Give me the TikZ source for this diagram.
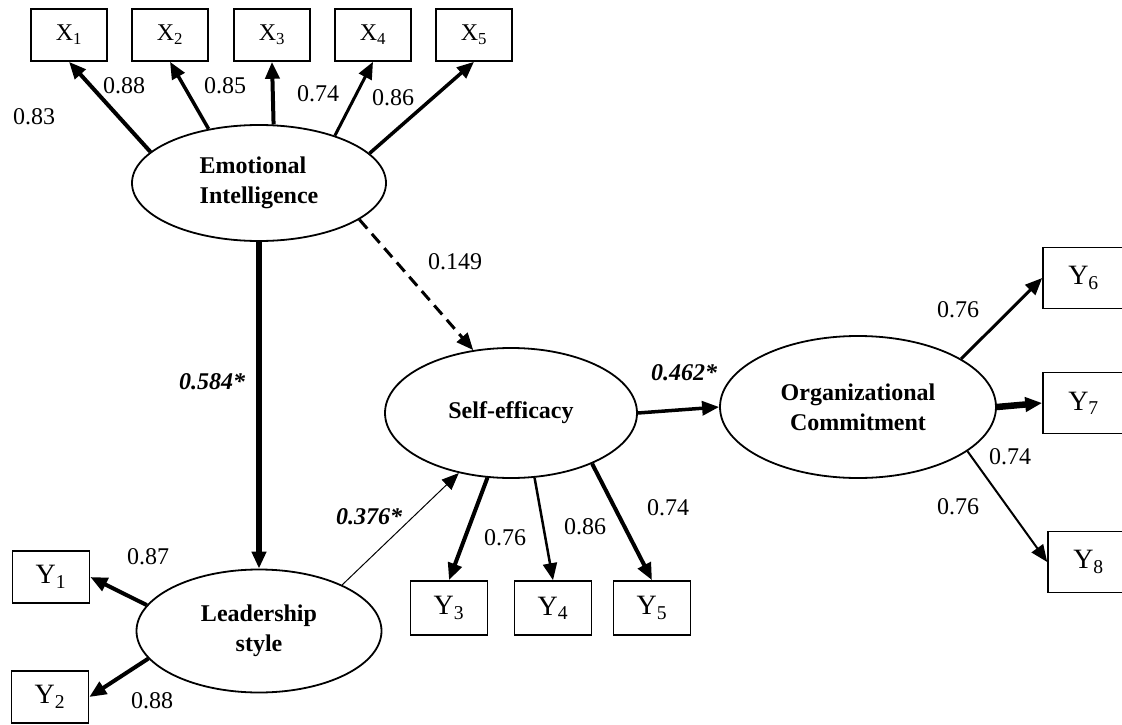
\documentclass[tikz,border=0pt]{standalone}
\usepackage{fontspec}
\setmainfont{Liberation Serif}
\usetikzlibrary{shapes.geometric, arrows.meta}

\begin{document}
\begin{tikzpicture}[x=1pt, y=-1pt,
		latent/.style={ellipse, draw, line width=1.8pt, inner sep=0pt, align=center, font=\fontsize{24}{30}\selectfont\bfseries},
		indic/.style={rectangle, draw, line width=1.6pt, minimum width=77pt, minimum height=54pt, inner sep=0pt, font=\fontsize{28}{32}\selectfont},
		load/.style={-{Triangle[length=17pt,width=14pt]}, line width=3.5pt},
		coef/.style={font=\fontsize{24}{28}\selectfont},
		pathcoef/.style={font=\fontsize{24}{28}\selectfont\bfseries\itshape}]
		\useasboundingbox (0,0) rectangle (1122,725);
		\clip (0,0) rectangle (1122,725);

		% Latent variables
		\node[latent, minimum width=254pt, minimum height=116pt, align=left] (emo) at (259,183) {Emotional\\Intelligence};
		\node[latent, minimum width=245pt, minimum height=123pt] (lead) at (259,631) {Leadership\\style};
		\node[latent, minimum width=252pt, minimum height=130pt] (self) at (511,413) {Self-efficacy};
		\node[latent, minimum width=276pt, minimum height=142pt] (org) at (858,407) {Organizational\\Commitment};

		% Indicator boxes
		\foreach \i/\x in {1/69, 2/170, 3/272, 4/373, 5/474}
			\node[indic, minimum width=76pt, minimum height=52pt, font=\fontsize{24}{28}\selectfont] (x\i) at (\x,35) {X\textsubscript{\i}};
		\node[indic, minimum height=52pt] (y1) at (51,577) {Y\textsubscript{1}};
		\node[indic, minimum height=52pt] (y2) at (50,697) {Y\textsubscript{2}};
		\node[indic] (y3) at (449,608) {Y\textsubscript{3}};
		\node[indic] (y4) at (553,608) {Y\textsubscript{4}};
		\node[indic] (y5) at (652,608) {Y\textsubscript{5}};
		\node[indic, minimum width=81pt, minimum height=61pt] (y6) at (1083.5,278) {Y\textsubscript{6}};
		\node[indic, minimum width=81pt, minimum height=61pt] (y7) at (1083.5,403) {Y\textsubscript{7}};
		\node[indic, minimum width=81pt, minimum height=61pt] (y8) at (1088.5,562) {Y\textsubscript{8}};

		% Loadings of emotional intelligence
		\draw[load, line width=4pt] (emo.164.7) -- (x1.south);
		\draw[load] (emo.133.9) -- (x2.south);
		\draw[load, line width=4pt] (emo.76) -- (x3.south);
		\draw[load, line width=3pt] (emo.32.3) -- (x4.south);
		\draw[load] (emo.15.4) -- (x5.south);

		% Loadings of leadership style
		\draw[load, line width=4pt] (lead.167.4) -- (y1.east);
		\draw[load, line width=4pt] (lead.194) -- (y2.east);

		% Loadings of self-efficacy
		\draw[load, line width=4pt] (self.250.3) -- (y3.north);
		\draw[load, line width=2.5pt] (self.290.5) -- (y4.north);
		\draw[load, line width=4pt] (self.328.6) -- (y5.north);

		% Loadings of organizational commitment
		\draw[load, line width=3pt] (org.25.2) -- (y6.west);
		\draw[load, line width=6.5pt] (org.east) -- (y7.west);
		\draw[load, line width=2pt] (org.-22.8) -- (y8.west);

		% Structural paths
		\draw[load, line width=6pt] (emo.south) -- (lead.north);
		\draw[load, line width=3pt, dash pattern=on 12pt off 7pt] (emo.-20.5) -- (self.121);
		\draw[load, line width=1pt] (lead.29) -- (self.229);
		\draw[load] (self.east) -- (org.west);

		% Coefficients
		\node[coef] (c1) at (34,117) {0.83};
		\node[coef] (c2) at (124,86) {0.88};
		\node[coef] (c3) at (225,86) {0.85};
		\node[coef] (c4) at (318,94) {0.74};
		\node[coef] (c5) at (393,98) {0.86};
		\node[coef] (c6) at (148,557) {0.87};
		\node[coef] (c7) at (152,701) {0.88};
		\node[coef] (c8) at (505,538) {0.76};
		\node[coef] (c9) at (585,527) {0.86};
		\node[coef] (c10) at (668,508) {0.74};
		\node[coef] (c11) at (958,310) {0.76};
		\node[coef] (c12) at (1010,457) {0.74};
		\node[coef] (c13) at (958,507) {0.76};
		\node[coef] (c14) at (455,262) {0.149};
		\node[pathcoef] (p1) at (212,382) {0.584*};
		\node[pathcoef] (p2) at (369,517) {0.376*};
		\node[pathcoef] (p3) at (684,373) {0.462*};
	\end{tikzpicture}
\end{document}
